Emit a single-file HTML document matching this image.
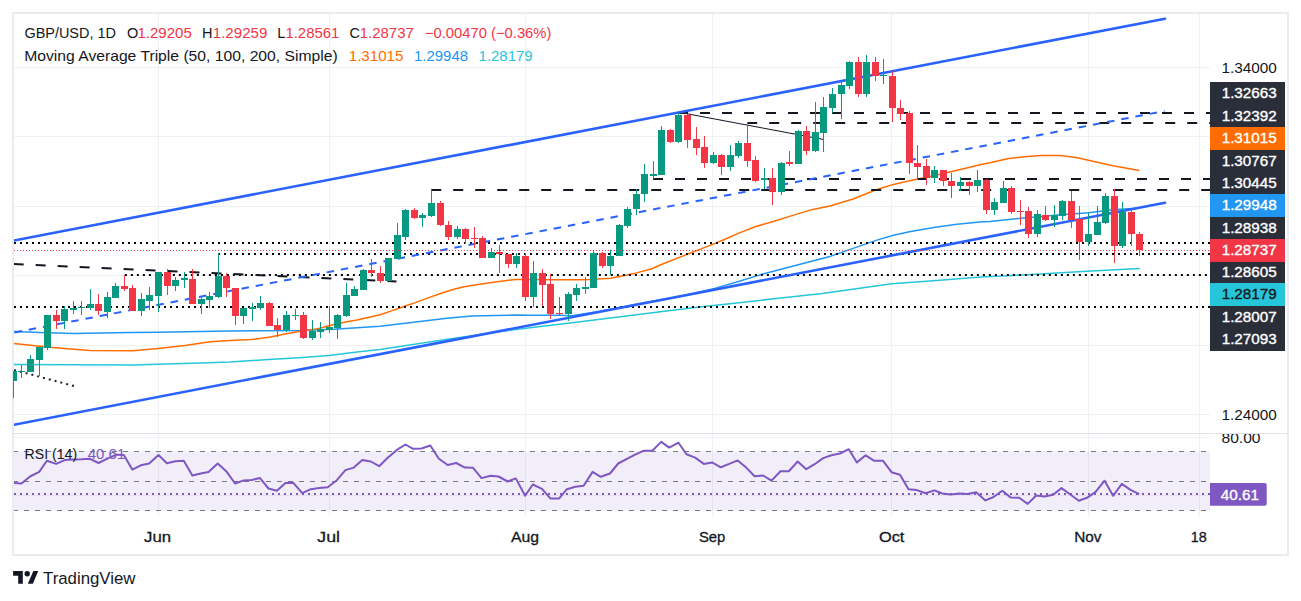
<!DOCTYPE html>
<html><head><meta charset="utf-8"><title>GBP/USD chart</title><style>
html,body{margin:0;padding:0;background:#ffffff;}
body{width:1301px;height:601px;overflow:hidden;position:relative;}
svg{position:absolute;left:0;top:0;display:block;}
text{font-family:'Liberation Sans', Arial, sans-serif;}
</style></head><body>
<svg width="1301" height="601" viewBox="0 0 1301 601">
<defs>
<clipPath id="cm"><rect x="14" y="14" width="1196" height="419"/></clipPath>
<clipPath id="cr"><rect x="14" y="434" width="1196" height="83"/></clipPath>
<clipPath id="cra"><rect x="1210" y="434" width="77" height="83"/></clipPath>
</defs>
<rect x="0" y="0" width="1301" height="601" fill="#fff"/>
<rect x="13" y="13" width="1275" height="542" fill="none" stroke="#eaecf1" stroke-width="2"/>
<g stroke="#f0f1f2" stroke-width="1"><line x1="14" y1="414.5" x2="1210" y2="414.5"/><line x1="14" y1="345.5" x2="1210" y2="345.5"/><line x1="14" y1="275.5" x2="1210" y2="275.5"/><line x1="14" y1="206.5" x2="1210" y2="206.5"/><line x1="14" y1="136.5" x2="1210" y2="136.5"/><line x1="14" y1="67.5" x2="1210" y2="67.5"/><line x1="158.5" y1="14" x2="158.5" y2="517"/><line x1="329.5" y1="14" x2="329.5" y2="517"/><line x1="525.5" y1="14" x2="525.5" y2="517"/><line x1="712.5" y1="14" x2="712.5" y2="517"/><line x1="891.5" y1="14" x2="891.5" y2="517"/><line x1="1088.5" y1="14" x2="1088.5" y2="517"/><line x1="1199.5" y1="14" x2="1199.5" y2="517"/><line x1="14" y1="437.5" x2="1210" y2="437.5"/><line x1="14" y1="495.5" x2="1210" y2="495.5"/></g>
<line x1="12" y1="433.5" x2="1289" y2="433.5" stroke="#e0e3eb" stroke-width="1"/>
<g clip-path="url(#cr)">
<rect x="14" y="451.2" width="1196" height="59.2" fill="#7e57c2" fill-opacity="0.1"/>
<line x1="13" y1="451.5" x2="1210" y2="451.5" stroke="#787b86" stroke-width="1" stroke-dasharray="5 6"/>
<line x1="13" y1="481.5" x2="1210" y2="481.5" stroke="#787b86" stroke-width="1" stroke-dasharray="5 6"/>
<line x1="13" y1="510.5" x2="1210" y2="510.5" stroke="#787b86" stroke-width="1" stroke-dasharray="5 6"/>
<line x1="14" y1="494" x2="1210" y2="494" stroke="#7e57c2" stroke-width="2" stroke-dasharray="2 4"/>
<polyline fill="none" stroke="#7e57c2" stroke-width="2" stroke-linejoin="round" points="13.1,483 21.5,483.5 30,476.5 39.2,471.9 46.9,460.8 56.2,463.9 64.6,460.1 73.1,459.6 81.5,459.3 90,458.8 98.5,463 106.9,458.8 116.2,454.7 123.8,455 132.3,469.6 140.8,465.3 149.2,463.5 158.5,455 166.9,463.2 175.4,461.2 183.8,460.8 192.3,475.5 200.8,473.5 208.5,471.9 217.7,463.5 226.2,471.2 235.1,483.5 243.8,480.4 251.5,479.9 260,478.1 268.5,488.5 276.9,490.7 285.4,483 293.1,482.7 302.3,493.2 310.8,489.2 319.2,488.1 327.7,487.3 336.2,480.8 345.4,470.1 353.8,467.6 362.3,459.9 370.8,461.5 379.2,466.2 387.7,457.8 396.9,449.9 405.4,444.5 413.1,448.8 421.5,448.5 430.3,445.5 438.9,458.8 447.7,465 456.2,463 464.9,467.6 473.1,467.8 481.5,478.1 490.8,475.8 498.5,476.5 507.7,481.5 515.8,478.4 525.1,495.8 532.8,484.5 542,488.8 550.3,498.4 559.2,498.4 566.9,489.2 575.4,486.8 583.6,485.8 592.6,471.9 600.8,476.8 610,473.5 618.2,463.5 626.9,458.8 635.1,454.7 643.8,450.7 652.3,450.7 661.2,441.9 669.2,447.6 678.5,442.7 686.5,454.2 695.1,457.6 703.8,463.9 712,462.4 720.8,467.3 729.2,463.9 737.7,460.4 746.2,467.6 754.6,476.2 763.1,475.5 771.5,480.6 780.5,471.2 788.8,471.2 797.7,461.5 806.2,469.2 814.6,464.2 823.1,458.1 831.5,455.3 840,453.5 848.8,449.2 856.9,462.4 865.7,455.3 874.3,460.8 883.1,460.8 891.5,472.2 900,474.7 908.5,489.2 916.9,490.1 925.7,493.2 934.3,490.4 942.3,493.5 950.8,494.5 959.2,493.5 967.7,493.9 976.2,492.2 985.4,500.4 993.1,497.3 1002.3,490.7 1010.8,497.6 1019.2,497.8 1027.7,503.9 1036.2,495.5 1044.6,496.5 1053.1,494.7 1061.5,488.1 1070,494.2 1078.8,500.8 1086.9,497.8 1095.4,492.2 1104.6,480.7 1113.1,495.8 1121.8,483.9 1130.5,489.9 1139.2,494.2"/>
</g>
<g clip-path="url(#cm)">
<polyline fill="none" stroke="#26c6da" stroke-width="1.5" stroke-linejoin="round" points="14,364.4 133,364.9 158,364.3 200,363 230,362.1 264.6,359.8 299.2,357.8 329.2,355.5 356.9,352.1 380,349.5 403.1,345.9 426.1,342.4 449.2,339 472.3,335.8 495.3,332.3 530,327.7 576.2,322.3 622.3,316.5 668.5,310.8 699.2,306.9 730,303.8 776.2,298.5 822.3,293.5 868.5,286.9 891.5,283.8 930,281 980.8,277 1031.5,274.5 1082.3,271.6 1139.8,268.5"/>
<polyline fill="none" stroke="#2196f3" stroke-width="1.5" stroke-linejoin="round" points="14,331.5 40,332.5 74,333.5 130,332.5 158,332.3 200,331.5 230,331 299.2,330.6 333.8,329.2 380,326.3 403.1,323.6 426.1,320.8 449.2,317.9 472.3,315.9 495.3,315.6 515,315 530,315.2 558.8,315.3 572,315.8 600,311.3 640,303.6 680,296.5 714.6,288.4 737.7,281.8 760.7,274.6 783.8,268.6 806.9,262.5 830,256.4 853.1,248.4 876.1,240.4 893.4,235.2 910.7,231.4 933.8,227.5 956.9,224.2 980,221.9 990,221.4 1026.9,217.7 1063.8,214.6 1088.4,212.8 1113,209.7 1139.7,207.9"/>
<polyline fill="none" stroke="#ff6d00" stroke-width="1.5" stroke-linejoin="round" points="14,343.5 52,347.4 90,350.5 133,350.8 158,348.5 185,345.5 210,341.8 230,340.5 250.8,339.6 270.4,337.1 287.7,333.6 301.5,331 317.7,328.7 333.8,324.6 345.3,322.1 356.9,320 380,314.8 391.5,310.9 403.1,306.7 414.6,302.9 426.1,298.6 443.4,292.5 455,289 464.2,286.7 478,284.4 495.3,281.9 506.9,280.4 516.1,279.5 536.9,279.4 553.1,279.8 576.1,279.8 590,279.4 610.7,278.2 622.3,275.9 633.8,273.6 651.1,269 662.6,264 680,257.1 712,244.6 723.8,239.7 737.7,233.6 755,226.7 772.3,221.8 795.3,214.6 812.6,209.4 830,206 853.1,199 876.1,189.8 893.4,184.4 910.7,180.6 928,177.1 945.3,173.1 962.6,169 980,164.8 990,162.8 1008.5,158.5 1026.9,156.4 1041.7,155.5 1060.1,155.6 1076.1,157.6 1088.4,160.3 1113,165.8 1139.4,170.5"/>
<line x1="14" y1="243" x2="1210" y2="243" stroke="#000" stroke-width="2" stroke-dasharray="2 4"/>
<line x1="218" y1="254" x2="1210" y2="254" stroke="#000" stroke-width="2" stroke-dasharray="2 4"/>
<line x1="124.9" y1="275" x2="1210" y2="275" stroke="#000" stroke-width="2" stroke-dasharray="2 4"/>
<line x1="14" y1="307" x2="1210" y2="307" stroke="#000" stroke-width="2" stroke-dasharray="2 4"/>
<line x1="678" y1="113" x2="1210" y2="113" stroke="#131722" stroke-width="2" stroke-dasharray="10 12"/>
<line x1="747.2" y1="123" x2="1210" y2="123" stroke="#131722" stroke-width="2" stroke-dasharray="10 12"/>
<line x1="653" y1="179" x2="1210" y2="179" stroke="#131722" stroke-width="2" stroke-dasharray="10 12"/>
<line x1="431.2" y1="190" x2="1210" y2="190" stroke="#131722" stroke-width="2" stroke-dasharray="10 12"/>
<line x1="13.7" y1="264" x2="396.5" y2="281.4" stroke="#131722" stroke-width="2" stroke-dasharray="10 12"/>
<line x1="14" y1="369.9" x2="74" y2="386" stroke="#1e222d" stroke-width="2" stroke-dasharray="2 4"/>
<line x1="687.2" y1="113.8" x2="823.1" y2="139.4" stroke="#131722" stroke-width="1"/>
<line x1="14" y1="240.5" x2="1165" y2="18.7" stroke="#2962ff" stroke-width="2.6" stroke-linecap="round"/>
<line x1="14" y1="424.7" x2="1165" y2="202.8" stroke="#2962ff" stroke-width="2.6" stroke-linecap="round"/>
<line x1="14.5" y1="332.5" x2="1164.5" y2="111" stroke="#2962ff" stroke-width="2" stroke-dasharray="7.5 6.95"/>
<g fill="#089981"><rect x="13" y="370" width="1" height="28"/><rect x="21" y="365" width="1" height="13"/><rect x="30" y="355" width="1" height="17"/><rect x="39" y="347" width="1" height="29"/><rect x="47" y="315" width="1" height="35"/><rect x="64" y="306" width="1" height="23"/><rect x="73" y="301" width="1" height="13"/><rect x="81" y="301" width="1" height="14"/><rect x="90" y="289" width="1" height="21"/><rect x="107" y="292" width="1" height="26"/><rect x="115" y="283" width="1" height="15"/><rect x="141" y="293" width="1" height="23"/><rect x="149" y="287" width="1" height="23"/><rect x="158" y="272" width="1" height="40"/><rect x="175" y="277" width="1" height="14"/><rect x="184" y="272" width="1" height="16"/><rect x="201" y="297" width="1" height="17"/><rect x="209" y="292" width="1" height="16"/><rect x="218" y="253" width="1" height="45"/><rect x="243" y="308" width="1" height="16"/><rect x="252" y="303" width="1" height="18"/><rect x="260" y="296" width="1" height="14"/><rect x="286" y="311" width="1" height="21"/><rect x="295" y="309" width="1" height="11"/><rect x="312" y="320" width="1" height="20"/><rect x="320" y="322" width="1" height="16"/><rect x="329" y="306" width="1" height="27"/><rect x="337" y="314" width="1" height="25"/><rect x="346" y="283" width="1" height="34"/><rect x="354" y="286" width="1" height="10"/><rect x="363" y="269" width="1" height="21"/><rect x="388" y="258" width="1" height="23"/><rect x="397" y="223" width="1" height="36"/><rect x="405" y="209" width="1" height="31"/><rect x="422" y="213" width="1" height="14"/><rect x="431" y="190" width="1" height="27"/><rect x="457" y="226" width="1" height="13"/><rect x="491" y="248" width="1" height="10"/><rect x="516" y="253" width="1" height="15"/><rect x="533" y="261" width="1" height="46"/><rect x="568" y="292" width="1" height="29"/><rect x="576" y="284" width="1" height="17"/><rect x="585" y="277" width="1" height="17"/><rect x="593" y="250" width="1" height="38"/><rect x="610" y="250" width="1" height="25"/><rect x="619" y="224" width="1" height="32"/><rect x="627" y="207" width="1" height="21"/><rect x="636" y="189" width="1" height="26"/><rect x="644" y="164" width="1" height="38"/><rect x="653" y="161" width="1" height="18"/><rect x="661" y="126" width="1" height="49"/><rect x="678" y="113" width="1" height="30"/><rect x="713" y="152" width="1" height="12"/><rect x="730" y="145" width="1" height="26"/><rect x="738" y="141" width="1" height="17"/><rect x="764" y="168" width="1" height="21"/><rect x="781" y="162" width="1" height="33"/><rect x="798" y="130" width="1" height="34"/><rect x="815" y="102" width="1" height="50"/><rect x="823" y="97" width="1" height="55"/><rect x="832" y="88" width="1" height="25"/><rect x="841" y="81" width="1" height="38"/><rect x="849" y="61" width="1" height="28"/><rect x="866" y="55" width="1" height="42"/><rect x="883" y="59" width="1" height="25"/><rect x="934" y="166" width="1" height="17"/><rect x="960" y="177" width="1" height="14"/><rect x="977" y="170" width="1" height="22"/><rect x="994" y="198" width="1" height="17"/><rect x="1003" y="181" width="1" height="22"/><rect x="1037" y="210" width="1" height="27"/><rect x="1054" y="205" width="1" height="22"/><rect x="1062" y="200" width="1" height="20"/><rect x="1088" y="213" width="1" height="33"/><rect x="1097" y="206" width="1" height="29"/><rect x="1105" y="193" width="1" height="31"/><rect x="1122" y="202" width="1" height="46"/></g>
<g fill="#f23645"><rect x="56" y="310" width="1" height="19"/><rect x="98" y="294" width="1" height="21"/><rect x="124" y="275" width="1" height="16"/><rect x="132" y="285" width="1" height="26"/><rect x="167" y="269" width="1" height="26"/><rect x="192" y="269" width="1" height="35"/><rect x="226" y="273" width="1" height="24"/><rect x="235" y="288" width="1" height="37"/><rect x="269" y="302" width="1" height="24"/><rect x="277" y="318" width="1" height="19"/><rect x="303" y="312" width="1" height="27"/><rect x="371" y="259" width="1" height="18"/><rect x="380" y="266" width="1" height="17"/><rect x="414" y="208" width="1" height="11"/><rect x="440" y="201" width="1" height="25"/><rect x="448" y="221" width="1" height="19"/><rect x="465" y="228" width="1" height="16"/><rect x="474" y="227" width="1" height="21"/><rect x="482" y="236" width="1" height="22"/><rect x="499" y="245" width="1" height="28"/><rect x="508" y="254" width="1" height="14"/><rect x="525" y="253" width="1" height="48"/><rect x="542" y="269" width="1" height="37"/><rect x="550" y="274" width="1" height="45"/><rect x="559" y="297" width="1" height="19"/><rect x="602" y="252" width="1" height="16"/><rect x="670" y="129" width="1" height="14"/><rect x="687" y="114" width="1" height="34"/><rect x="696" y="127" width="1" height="28"/><rect x="704" y="136" width="1" height="32"/><rect x="721" y="154" width="1" height="21"/><rect x="747" y="122" width="1" height="45"/><rect x="755" y="156" width="1" height="26"/><rect x="772" y="168" width="1" height="37"/><rect x="789" y="151" width="1" height="15"/><rect x="806" y="126" width="1" height="29"/><rect x="858" y="57" width="1" height="40"/><rect x="875" y="57" width="1" height="24"/><rect x="892" y="71" width="1" height="51"/><rect x="900" y="100" width="1" height="20"/><rect x="909" y="111" width="1" height="63"/><rect x="917" y="145" width="1" height="35"/><rect x="926" y="159" width="1" height="26"/><rect x="943" y="170" width="1" height="16"/><rect x="951" y="173" width="1" height="25"/><rect x="969" y="181" width="1" height="14"/><rect x="986" y="179" width="1" height="35"/><rect x="1011" y="186" width="1" height="28"/><rect x="1020" y="200" width="1" height="25"/><rect x="1028" y="207" width="1" height="31"/><rect x="1045" y="206" width="1" height="15"/><rect x="1071" y="191" width="1" height="37"/><rect x="1079" y="206" width="1" height="54"/><rect x="1114" y="189" width="1" height="74"/><rect x="1131" y="209" width="1" height="37"/><rect x="1139" y="232" width="1" height="24"/></g>
<g fill="#089981"><rect x="10" y="371" width="7" height="10"/><rect x="18" y="371" width="7" height="1"/><rect x="27" y="359" width="7" height="13"/><rect x="36" y="347" width="7" height="13"/><rect x="44" y="315" width="7" height="33"/><rect x="61" y="309" width="7" height="12"/><rect x="70" y="308" width="7" height="2"/><rect x="78" y="307" width="7" height="1"/><rect x="87" y="304" width="7" height="4"/><rect x="104" y="297" width="7" height="15"/><rect x="112" y="286" width="7" height="12"/><rect x="138" y="299" width="7" height="12"/><rect x="146" y="295" width="7" height="6"/><rect x="155" y="272" width="7" height="24"/><rect x="172" y="280" width="7" height="6"/><rect x="181" y="278" width="7" height="2"/><rect x="198" y="299" width="7" height="5"/><rect x="206" y="296" width="7" height="4"/><rect x="215" y="276" width="7" height="21"/><rect x="240" y="308" width="7" height="8"/><rect x="249" y="307" width="7" height="2"/><rect x="257" y="303" width="7" height="5"/><rect x="283" y="315" width="7" height="15"/><rect x="292" y="315" width="7" height="1"/><rect x="309" y="331" width="7" height="7"/><rect x="317" y="329" width="7" height="3"/><rect x="326" y="327" width="7" height="3"/><rect x="334" y="315" width="7" height="13"/><rect x="343" y="295" width="7" height="21"/><rect x="351" y="289" width="7" height="7"/><rect x="360" y="270" width="7" height="20"/><rect x="385" y="258" width="7" height="23"/><rect x="394" y="235" width="7" height="24"/><rect x="402" y="210" width="7" height="27"/><rect x="419" y="215" width="7" height="3"/><rect x="428" y="203" width="7" height="13"/><rect x="454" y="229" width="7" height="8"/><rect x="488" y="252" width="7" height="6"/><rect x="513" y="256" width="7" height="8"/><rect x="530" y="273" width="7" height="24"/><rect x="565" y="294" width="7" height="20"/><rect x="573" y="288" width="7" height="7"/><rect x="582" y="287" width="7" height="2"/><rect x="590" y="253" width="7" height="35"/><rect x="607" y="256" width="7" height="10"/><rect x="616" y="225" width="7" height="31"/><rect x="624" y="209" width="7" height="17"/><rect x="633" y="194" width="7" height="15"/><rect x="641" y="174" width="7" height="20"/><rect x="650" y="174" width="7" height="2"/><rect x="658" y="130" width="7" height="45"/><rect x="675" y="115" width="7" height="27"/><rect x="710" y="155" width="7" height="8"/><rect x="727" y="155" width="7" height="12"/><rect x="735" y="143" width="7" height="13"/><rect x="761" y="178" width="7" height="2"/><rect x="778" y="163" width="7" height="29"/><rect x="795" y="131" width="7" height="33"/><rect x="812" y="132" width="7" height="19"/><rect x="820" y="107" width="7" height="26"/><rect x="829" y="94" width="7" height="14"/><rect x="838" y="85" width="7" height="9"/><rect x="846" y="62" width="7" height="24"/><rect x="863" y="62" width="7" height="32"/><rect x="880" y="75" width="7" height="1"/><rect x="931" y="170" width="7" height="8"/><rect x="957" y="182" width="7" height="4"/><rect x="974" y="180" width="7" height="6"/><rect x="991" y="202" width="7" height="8"/><rect x="1000" y="188" width="7" height="15"/><rect x="1034" y="214" width="7" height="20"/><rect x="1051" y="215" width="7" height="5"/><rect x="1059" y="201" width="7" height="15"/><rect x="1085" y="234" width="7" height="8"/><rect x="1094" y="222" width="7" height="13"/><rect x="1102" y="196" width="7" height="27"/><rect x="1119" y="212" width="7" height="34"/></g>
<g fill="#f23645"><rect x="53" y="315" width="7" height="6"/><rect x="95" y="304" width="7" height="7"/><rect x="121" y="286" width="7" height="3"/><rect x="129" y="288" width="7" height="23"/><rect x="164" y="272" width="7" height="14"/><rect x="189" y="279" width="7" height="25"/><rect x="223" y="276" width="7" height="12"/><rect x="232" y="288" width="7" height="28"/><rect x="266" y="303" width="7" height="23"/><rect x="274" y="325" width="7" height="5"/><rect x="300" y="315" width="7" height="23"/><rect x="368" y="270" width="7" height="3"/><rect x="377" y="273" width="7" height="8"/><rect x="411" y="210" width="7" height="8"/><rect x="437" y="203" width="7" height="22"/><rect x="445" y="225" width="7" height="12"/><rect x="462" y="229" width="7" height="10"/><rect x="471" y="238" width="7" height="1"/><rect x="479" y="238" width="7" height="20"/><rect x="496" y="252" width="7" height="2"/><rect x="505" y="254" width="7" height="10"/><rect x="522" y="256" width="7" height="41"/><rect x="539" y="273" width="7" height="12"/><rect x="547" y="284" width="7" height="30"/><rect x="556" y="313" width="7" height="1"/><rect x="599" y="253" width="7" height="13"/><rect x="667" y="130" width="7" height="12"/><rect x="684" y="115" width="7" height="25"/><rect x="693" y="139" width="7" height="9"/><rect x="701" y="147" width="7" height="16"/><rect x="718" y="155" width="7" height="12"/><rect x="744" y="143" width="7" height="18"/><rect x="752" y="160" width="7" height="21"/><rect x="769" y="178" width="7" height="14"/><rect x="786" y="162" width="7" height="2"/><rect x="803" y="131" width="7" height="20"/><rect x="855" y="62" width="7" height="32"/><rect x="872" y="62" width="7" height="14"/><rect x="889" y="76" width="7" height="32"/><rect x="897" y="108" width="7" height="6"/><rect x="906" y="113" width="7" height="50"/><rect x="914" y="163" width="7" height="4"/><rect x="923" y="166" width="7" height="12"/><rect x="940" y="170" width="7" height="11"/><rect x="948" y="181" width="7" height="5"/><rect x="966" y="182" width="7" height="4"/><rect x="983" y="180" width="7" height="30"/><rect x="1008" y="188" width="7" height="24"/><rect x="1017" y="211" width="7" height="1"/><rect x="1025" y="211" width="7" height="23"/><rect x="1042" y="215" width="7" height="5"/><rect x="1068" y="201" width="7" height="19"/><rect x="1076" y="219" width="7" height="23"/><rect x="1111" y="196" width="7" height="50"/><rect x="1128" y="212" width="7" height="22"/><rect x="1136" y="234" width="7" height="16"/></g>
<line x1="14" y1="250.5" x2="1210" y2="250.5" stroke="#f23645" stroke-width="1" stroke-dasharray="1 2"/>
</g>
<rect x="13" y="371" width="1" height="27" fill="#089981"/>
<text x="1221.5" y="72.6" fill="#131722" font-size="14.5" textLength="55.4" lengthAdjust="spacingAndGlyphs" text-anchor="start">1.34000</text>
<text x="1221.5" y="420.2" fill="#131722" font-size="14.5" textLength="55.4" lengthAdjust="spacingAndGlyphs" text-anchor="start">1.24000</text>
<g clip-path="url(#cra)"><text x="1221.5" y="442.6" fill="#131722" font-size="14.5" textLength="39" lengthAdjust="spacingAndGlyphs" text-anchor="start">80.00</text></g>
<rect x="1210" y="82" width="75" height="23" fill="#2a2e39"/>
<rect x="1210" y="105" width="75" height="22" fill="#2a2e39"/>
<rect x="1210" y="127" width="75" height="23" fill="#ff6d00"/>
<rect x="1210" y="150" width="75" height="22" fill="#2a2e39"/>
<rect x="1210" y="172" width="75" height="22" fill="#2a2e39"/>
<rect x="1210" y="194" width="75" height="23" fill="#2196f3"/>
<rect x="1210" y="217" width="75" height="22" fill="#2a2e39"/>
<rect x="1210" y="239" width="75" height="23" fill="#f23645"/>
<rect x="1210" y="262" width="75" height="21" fill="#2a2e39"/>
<rect x="1210" y="283" width="75" height="23" fill="#26c6da"/>
<rect x="1210" y="306" width="75" height="22" fill="#2a2e39"/>
<rect x="1210" y="328" width="75" height="23" fill="#2a2e39"/>
<text stroke="#fff" stroke-width="0.35" x="1221.7" y="98.4" fill="#fff" font-size="14.5" textLength="55" lengthAdjust="spacingAndGlyphs" text-anchor="start">1.32663</text>
<text stroke="#fff" stroke-width="0.35" x="1221.7" y="120.9" fill="#fff" font-size="14.5" textLength="55" lengthAdjust="spacingAndGlyphs" text-anchor="start">1.32392</text>
<text stroke="#fff" stroke-width="0.35" x="1221.7" y="143.4" fill="#fff" font-size="14.5" textLength="55" lengthAdjust="spacingAndGlyphs" text-anchor="start">1.31015</text>
<text stroke="#fff" stroke-width="0.35" x="1221.7" y="165.9" fill="#fff" font-size="14.5" textLength="55" lengthAdjust="spacingAndGlyphs" text-anchor="start">1.30767</text>
<text stroke="#fff" stroke-width="0.35" x="1221.7" y="187.9" fill="#fff" font-size="14.5" textLength="55" lengthAdjust="spacingAndGlyphs" text-anchor="start">1.30445</text>
<text stroke="#fff" stroke-width="0.35" x="1221.7" y="210.4" fill="#fff" font-size="14.5" textLength="55" lengthAdjust="spacingAndGlyphs" text-anchor="start">1.29948</text>
<text stroke="#fff" stroke-width="0.35" x="1221.7" y="232.9" fill="#fff" font-size="14.5" textLength="55" lengthAdjust="spacingAndGlyphs" text-anchor="start">1.28938</text>
<text stroke="#fff" stroke-width="0.35" x="1221.7" y="255.4" fill="#fff" font-size="14.5" textLength="55" lengthAdjust="spacingAndGlyphs" text-anchor="start">1.28737</text>
<text stroke="#fff" stroke-width="0.35" x="1221.7" y="277.4" fill="#fff" font-size="14.5" textLength="55" lengthAdjust="spacingAndGlyphs" text-anchor="start">1.28605</text>
<text stroke="#131722" stroke-width="0.35" x="1221.7" y="299.4" fill="#131722" font-size="14.5" textLength="55" lengthAdjust="spacingAndGlyphs" text-anchor="start">1.28179</text>
<text stroke="#fff" stroke-width="0.35" x="1221.7" y="321.9" fill="#fff" font-size="14.5" textLength="55" lengthAdjust="spacingAndGlyphs" text-anchor="start">1.28007</text>
<text stroke="#fff" stroke-width="0.35" x="1221.7" y="344.4" fill="#fff" font-size="14.5" textLength="55" lengthAdjust="spacingAndGlyphs" text-anchor="start">1.27093</text>
<path d="M1210 483H1264.7A2 2 0 0 1 1266.7 485V503.8A2 2 0 0 1 1264.7 505.8H1210Z" fill="#7e57c2"/>
<text stroke="#fff" stroke-width="0.35" x="1220.7" y="500.1" fill="#fff" font-size="14.5" textLength="38.2" lengthAdjust="spacingAndGlyphs" text-anchor="start">40.61</text>
<text x="24.4" y="37.6" fill="#131722" font-size="14.5" textLength="91.5" lengthAdjust="spacingAndGlyphs" text-anchor="start">GBP/USD, 1D</text>
<text x="127" y="37.6" fill="#131722" font-size="14.5" text-anchor="start">O</text>
<text x="137.4" y="37.6" fill="#f23645" font-size="14.5" textLength="54.5" lengthAdjust="spacingAndGlyphs" text-anchor="start">1.29205</text>
<text x="201.9" y="37.6" fill="#131722" font-size="14.5" text-anchor="start">H</text>
<text x="212.8" y="37.6" fill="#f23645" font-size="14.5" textLength="54.5" lengthAdjust="spacingAndGlyphs" text-anchor="start">1.29259</text>
<text x="277.3" y="37.6" fill="#131722" font-size="14.5" text-anchor="start">L</text>
<text x="285.4" y="37.6" fill="#f23645" font-size="14.5" textLength="54" lengthAdjust="spacingAndGlyphs" text-anchor="start">1.28561</text>
<text x="349.5" y="37.6" fill="#131722" font-size="14.5" text-anchor="start">C</text>
<text x="359.8" y="37.6" fill="#f23645" font-size="14.5" textLength="54" lengthAdjust="spacingAndGlyphs" text-anchor="start">1.28737</text>
<text x="424.9" y="37.6" fill="#f23645" font-size="14.5" textLength="126.5" lengthAdjust="spacingAndGlyphs" text-anchor="start">−0.00470 (−0.36%)</text>
<text x="24.2" y="60.7" fill="#131722" font-size="14.5" textLength="313.5" lengthAdjust="spacingAndGlyphs" text-anchor="start">Moving Average Triple (50, 100, 200, Simple)</text>
<text x="348.8" y="60.7" fill="#ff6d00" font-size="14.5" textLength="54.5" lengthAdjust="spacingAndGlyphs" text-anchor="start">1.31015</text>
<text x="414" y="60.7" fill="#2196f3" font-size="14.5" textLength="54" lengthAdjust="spacingAndGlyphs" text-anchor="start">1.29948</text>
<text x="478.6" y="60.7" fill="#26c6da" font-size="14.5" textLength="54" lengthAdjust="spacingAndGlyphs" text-anchor="start">1.28179</text>
<text x="24.6" y="458.8" fill="#131722" font-size="14.5" textLength="52.5" lengthAdjust="spacingAndGlyphs" text-anchor="start">RSI (14)</text>
<text x="87.7" y="458.8" fill="#7e57c2" font-size="14.5" textLength="37.7" lengthAdjust="spacingAndGlyphs" text-anchor="start">40.61</text>
<text stroke="#131722" stroke-width="0.3" x="144.05" y="541.7" fill="#131722" font-size="15.5" textLength="27.05" lengthAdjust="spacingAndGlyphs" text-anchor="start">Jun</text>
<text stroke="#131722" stroke-width="0.3" x="317.3" y="541.7" fill="#131722" font-size="15.5" textLength="22.7" lengthAdjust="spacingAndGlyphs" text-anchor="start">Jul</text>
<text stroke="#131722" stroke-width="0.3" x="511" y="541.7" fill="#131722" font-size="15.5" textLength="28" lengthAdjust="spacingAndGlyphs" text-anchor="start">Aug</text>
<text stroke="#131722" stroke-width="0.3" x="698.9" y="541.7" fill="#131722" font-size="15.5" textLength="26.4" lengthAdjust="spacingAndGlyphs" text-anchor="start">Sep</text>
<text stroke="#131722" stroke-width="0.3" x="878.9" y="541.7" fill="#131722" font-size="15.5" textLength="25.5" lengthAdjust="spacingAndGlyphs" text-anchor="start">Oct</text>
<text stroke="#131722" stroke-width="0.3" x="1074.2" y="541.7" fill="#131722" font-size="15.5" textLength="27.3" lengthAdjust="spacingAndGlyphs" text-anchor="start">Nov</text>
<text stroke="#131722" stroke-width="0.3" x="1190.7" y="541.7" fill="#131722" font-size="15.5" textLength="16" lengthAdjust="spacingAndGlyphs" text-anchor="start">18</text>
<g fill="#131722">
<path d="M13.1 570.9H22.8V583.8H18.2V575.7H13.1Z"/>
<circle cx="27.2" cy="573.7" r="2.7"/>
<path d="M33.4 570.9H38.2L32.9 583.8H27.8Z"/>
</g>
<text x="43" y="583.5" fill="#131722" font-size="16.8" textLength="92.5" lengthAdjust="spacingAndGlyphs" text-anchor="start">TradingView</text>
</svg>
</body></html>
